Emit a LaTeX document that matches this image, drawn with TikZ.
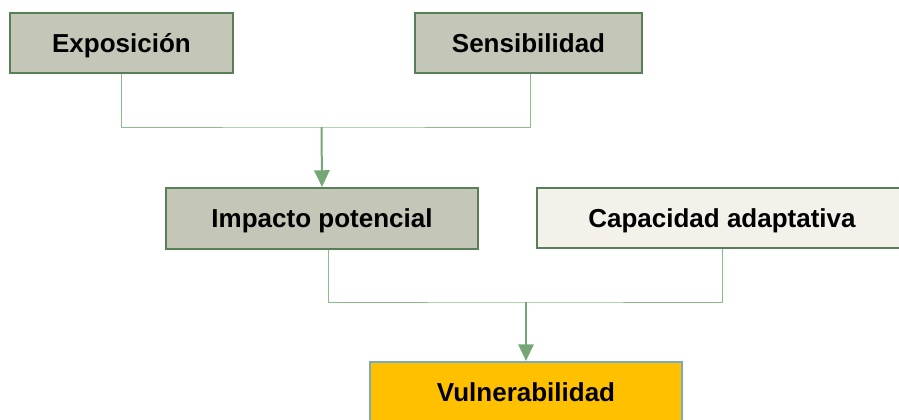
\documentclass[tikz,border=0pt]{standalone}
\usepackage{fontspec}
\setmainfont{Liberation Sans}
\usetikzlibrary{arrows.meta}

\definecolor{boxgreen}{RGB}{196,198,184}
\definecolor{boxline}{RGB}{88,128,88}
\definecolor{wireline}{RGB}{140,188,140}
\definecolor{arrowline}{RGB}{118,166,118}
\definecolor{boxcream}{RGB}{243,241,234}
\definecolor{boxgold}{RGB}{255,192,0}
\definecolor{boxblue}{RGB}{120,170,192}

\tikzset{every picture/.style={line width=0.75pt}}
\tikzset{
  factor/.style={draw=boxline, line width=1.6pt, fill=boxgreen, inner sep=0pt,
    text height=14pt, text depth=0pt,
    font=\fontsize{19.5}{23}\selectfont\bfseries},
  wire/.style={draw=wireline, line width=0.75pt},
  flow/.style={draw=arrowline, line width=1.5pt, -{Triangle[length=12.5pt,width=11.5pt]}}
}

\begin{document}
\begin{tikzpicture}[x=0.75pt,y=0.75pt,yscale=-1,xscale=1]
        \useasboundingbox (0,0) rectangle (899,419);
        \clip (0,0) rectangle (899,419);

        %Shape: Rectangle
        \node [factor, minimum width=167.25pt, minimum height=45pt] (expo) at (121.5,43) {Exposición};
        %Shape: Rectangle
        \node [factor, minimum width=170.25pt, minimum height=45pt] (sens) at (528.5,43) {Sensibilidad};
        %Shape: Rectangle
        \node [factor, minimum width=234pt, minimum height=45.75pt] (imp) at (322,218.5) {Impacto potencial};
        %Shape: Rectangle
        \node [factor, fill=boxcream, minimum width=277.5pt, minimum height=45pt] (cap) at (722,218) {Capacidad adaptativa};
        %Shape: Rectangle
        \node [factor, draw=boxblue, fill=boxgold, minimum width=234pt, minimum height=45pt] (vul) at (526,392) {Vulnerabilidad};

        %Straight Lines
        \coordinate (top) at (321.5,127);
        \draw [wire] (expo.south) |- (top) -| ([xshift=1.5pt]sens.south);
        \draw [flow] (top) -- (imp.north);

        %Straight Lines
        \coordinate (mid) at (526,302);
        \draw [wire] ([xshift=4.5pt]imp.south) |- (mid) -| (cap.south);
        \draw [flow] (mid) -- (vul.north);

\end{tikzpicture}
\end{document}
